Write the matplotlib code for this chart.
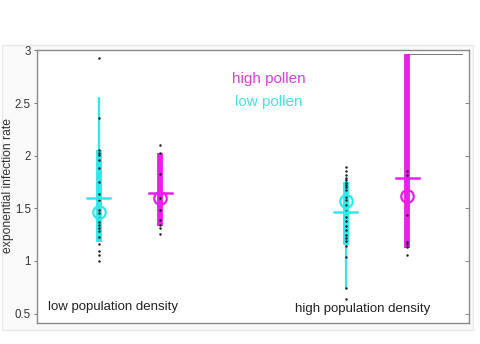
import matplotlib
matplotlib.use("Agg")
import matplotlib.pyplot as plt
from matplotlib.patches import Rectangle

plt.rcParams['font.family'] = ['Liberation Sans', 'DejaVu Sans']

# group positions along x and their colours
positions = [1, 2, 5, 6]
colors = ['#2ee9ea', '#ea1fea', '#2ee9ea', '#ea1fea']

# individual observations per group
low_density_low_pollen = [2.93, 2.36, 2.05, 2.03, 2.01, 1.96, 1.88, 1.75, 1.635, 1.58,
                          1.485, 1.455, 1.41, 1.37, 1.34, 1.31, 1.28, 1.23, 1.16,
                          1.09, 1.06, 1.0]
low_density_high_pollen = [2.1, 2.03, 1.83, 1.6, 1.48, 1.39, 1.34, 1.31, 1.26]
high_density_low_pollen = [1.89, 1.85, 1.82, 1.79, 1.765, 1.74, 1.72, 1.70, 1.675, 1.61,
                           1.58, 1.53, 1.47, 1.42, 1.375, 1.33, 1.295, 1.25, 1.215,
                           1.185, 1.14, 1.04, 0.74, 0.635]
high_density_high_pollen = [1.85, 1.82, 1.79, 1.44, 1.18, 1.16, 1.135, 1.055]
groups = [low_density_low_pollen, low_density_high_pollen,
          high_density_low_pollen, high_density_high_pollen]

# summary statistics per group
means = [1.60, 1.65, 1.46, 1.79]
medians = [1.46, 1.60, 1.57, 1.62]
thick_low = [1.18, 1.33, 1.15, 1.12]
thick_high = [2.05, 2.03, 1.75, 2.965]
thin_low = [1.18, 1.33, 0.73, 1.12]
thin_high = [2.56, 2.03, 1.78, 2.965]

fig = plt.figure(figsize=(4.8, 3.44), dpi=100)
# light panel behind the plot
fig.patches.append(Rectangle((0.004, 0.04), 0.982, 0.83, transform=fig.transFigure,
                             facecolor='#fafafa', edgecolor='#e8e8e8', lw=1.0, zorder=-1))
ax = fig.add_axes([0.077, 0.061, 0.900, 0.794])
ax.set_facecolor('white')

for x, c, pts, m, md, tl, th, nl, nh in zip(positions, colors, groups, means, medians,
                                            thick_low, thick_high, thin_low, thin_high):
    ax.plot([x, x], [nl, nh], color=c, lw=1.6, solid_capstyle='butt', zorder=2)
    ax.plot([x, x], [tl, th], color=c, lw=4.2, solid_capstyle='butt', zorder=3)
    ax.plot([x] * len(pts), pts, 'o', color='#222222', ms=1.8, mew=0, zorder=4)
    ax.plot([x - 0.19, x + 0.19], [m, m], color=c, lw=1.8, zorder=5)
    ax.plot([x], [md], 'o', mfc='none', mec=c, ms=9, mew=1.6, zorder=6)

ax.plot([6.0, 6.88], [2.97, 2.97], color='#777777', lw=0.7, zorder=1)

ax.text(3.75, 2.73, 'high pollen', color='#e23be2', fontsize=11, ha='center', va='center')
ax.text(3.75, 2.51, 'low pollen', color='#45e3e3', fontsize=11, ha='center', va='center')
ax.text(0.18, 0.56, 'low population density', color='#222222', fontsize=9.5,
        ha='left', va='center')
ax.text(4.18, 0.54, 'high population density', color='#222222', fontsize=9.5,
        ha='left', va='center')

ax.set_xlim(0, 7)
ax.set_ylim(0.41, 3.005)
ax.set_xticks([])
ax.set_yticks([0.5, 1, 1.5, 2, 2.5, 3])
ax.set_yticklabels(['0.5', '1', '1.5', '2', '2.5', '3'])
ax.tick_params(axis='y', direction='out', length=2.5, width=0.7, colors='#777777',
               labelcolor='#333333', labelsize=8.3, pad=2)
right = ax.secondary_yaxis('right')
right.set_yticks([0.5, 1, 1.5, 2, 2.5, 3])
right.tick_params(axis='y', direction='in', length=3, width=0.7, colors='#888888',
                  labelright=False)
right.spines['right'].set_visible(False)
for s in ax.spines.values():
    s.set_color('#8a8a8a')
    s.set_linewidth(1.0)
ax.set_ylabel('exponential infection rate', fontsize=8.7, color='#333333')
ax.yaxis.label.set_va('center')
ax.yaxis.set_label_coords(-0.067, 0.505)

fig.savefig('out.png', dpi=100)
